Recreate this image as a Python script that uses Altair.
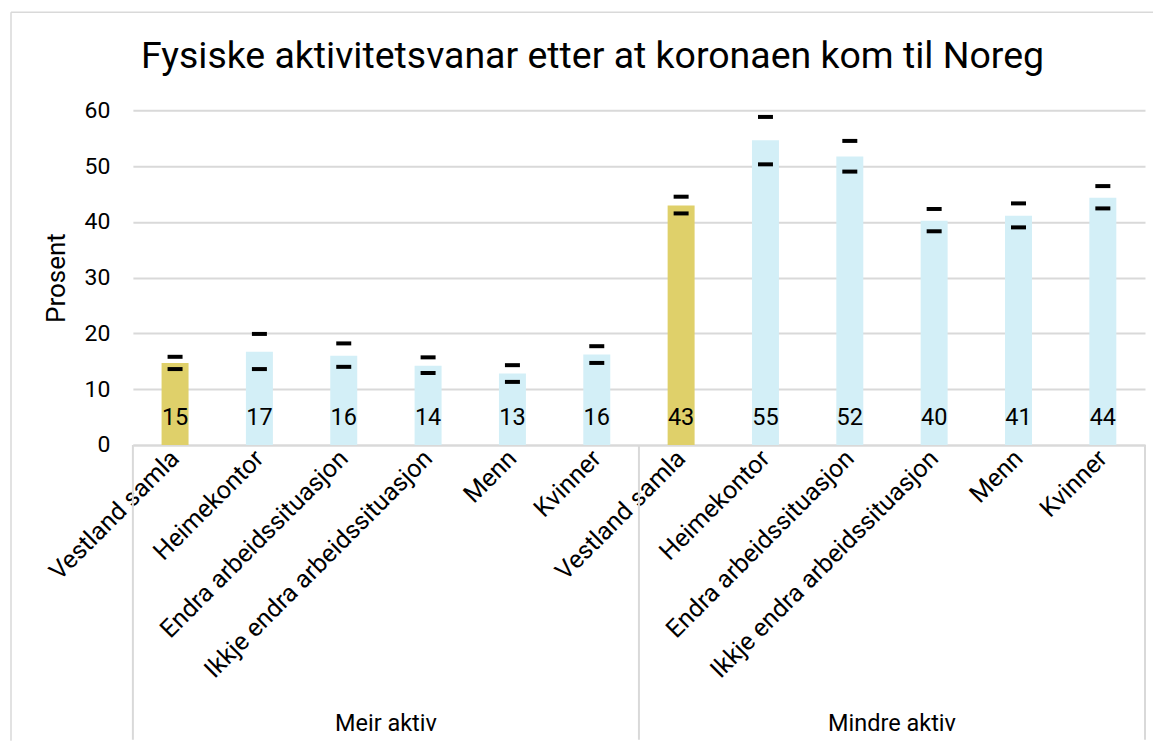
import altair as alt
import pandas as pd

title_text = "Fysiske aktivitetsvanar etter at koronaen kom til Noreg"
groups = ["Meir aktiv", "Mindre aktiv"]
categories = ["Vestland samla", "Heimekontor", "Endra arbeidssituasjon",
              "Ikkje endra arbeidssituasjon", "Menn", "Kvinner"]
pct = [14.7, 16.7, 16.0, 14.2, 12.8, 16.2,
       42.9, 54.6, 51.7, 40.2, 41.1, 44.3]
upper = [15.8, 19.9, 18.2, 15.7, 14.3, 17.7,
         44.5, 58.8, 54.5, 42.3, 43.3, 46.4]
lower = [13.6, 13.6, 14.0, 12.9, 11.3, 14.7,
         41.5, 50.3, 49.0, 38.3, 39.0, 42.4]

rows = []
for gi, g in enumerate(groups):
    for ci, c in enumerate(categories):
        i = gi * len(categories) + ci
        rows.append({"key": f"{g}|{c}", "group": g, "cat": c,
                     "pct": pct[i], "hi": upper[i], "lo": lower[i]})
df = pd.DataFrame(rows)
keys = list(df["key"])
ncat = len(categories)
grp_df = pd.DataFrame({"group": groups,
                       "mid": [ncat * (i + 0.5) for i in range(len(groups))]})
sep_df = pd.DataFrame({"pos": [ncat * i for i in range(len(groups) + 1)]})

W, H = 1013, 335
FONT = "Roboto"
GOLD = "#DFD06A"
BLUE = "#D3EFF7"
GRID = "#d9d9d9"

xscale = alt.Scale(domain=keys, paddingInner=0, paddingOuter=0)
yscale = alt.Scale(domain=[0, 60])

base = alt.Chart(df)

bars = base.mark_bar(size=27).encode(
    x=alt.X("key:N", sort=keys, scale=xscale,
            axis=alt.Axis(title=None, labelAngle=-45,
                          labelExpr="split(datum.label, '|')[1]",
                          labelFontSize=25, labelFont=FONT, labelColor="black",
                          labelAlign="right", labelBaseline="middle",
                          labelPadding=9, labelLimit=0, labelOverlap=False,
                          ticks=False, domainColor=GRID, domainWidth=2,
                          grid=False)),
    y=alt.Y("pct:Q", scale=yscale,
            axis=alt.Axis(title="Prosent", values=[0, 10, 20, 30, 40, 50, 60],
                          titleFontSize=26, titleFont=FONT, titleFontWeight="normal",
                          titleColor="black", titlePadding=15,
                          labelFontSize=23, labelFont=FONT, labelColor="black",
                          labelPadding=23, ticks=False, domain=False,
                          grid=True, gridColor=GRID, gridWidth=2)),
    color=alt.condition(alt.datum.cat == "Vestland samla",
                        alt.value(GOLD), alt.value(BLUE)),
)

ticks = base.transform_fold(["hi", "lo"], as_=["bound", "ci"]).mark_tick(
    orient="horizontal", size=15, thickness=4, color="black", opacity=1
).encode(
    x=alt.X("key:N", sort=keys, scale=xscale, axis=None),
    y=alt.Y("ci:Q", scale=yscale),
)

labels = base.mark_text(fontSize=23.5, font=FONT, color="black",
                        baseline="middle", align="center").encode(
    x=alt.X("key:N", sort=keys, scale=xscale, axis=None),
    y=alt.value(H - 27),
    text=alt.Text("pct:Q", format=".0f"),
)

qscale = alt.Scale(domain=[0, ncat * len(groups)], nice=False, zero=False)

group_labels = alt.Chart(grp_df).mark_text(
    fontSize=23.5, font=FONT, color="black", baseline="middle", align="center"
).encode(
    x=alt.X("mid:Q", scale=qscale, axis=None),
    y=alt.value(H + 279),
    text="group:N",
)

seps = alt.Chart(sep_df).mark_rule(color=GRID, strokeWidth=2).encode(
    x=alt.X("pos:Q", scale=qscale, axis=None),
    y=alt.value(H),
    y2=alt.value(H + 295),
)

one = pd.DataFrame({"a": [0]})
border_top = alt.Chart(one).mark_rule(color=GRID, strokeWidth=1.5).encode(
    x=alt.value(-122), x2=alt.value(W + 8), y=alt.value(-98),
)
border_left = alt.Chart(one).mark_rule(color=GRID, strokeWidth=1.5).encode(
    x=alt.value(-122), y=alt.value(-98), y2=alt.value(H + 296),
)

title = alt.Chart(pd.DataFrame({"t": [title_text]})).mark_text(
    fontSize=37.5, font=FONT, color="black", align="center", baseline="middle"
).encode(
    x=alt.value(460), y=alt.value(-53), text="t:N",
)

chart = alt.layer(border_top, border_left, title, bars, ticks, labels, seps,
                  group_labels).resolve_scale(
    x="independent"
).properties(
    width=W, height=H,
    padding={"left": 2, "top": 3, "right": 0, "bottom": 0},
).configure_view(stroke=None)

chart.save("out.html", embed_options={"renderer": "svg", "actions": False})
